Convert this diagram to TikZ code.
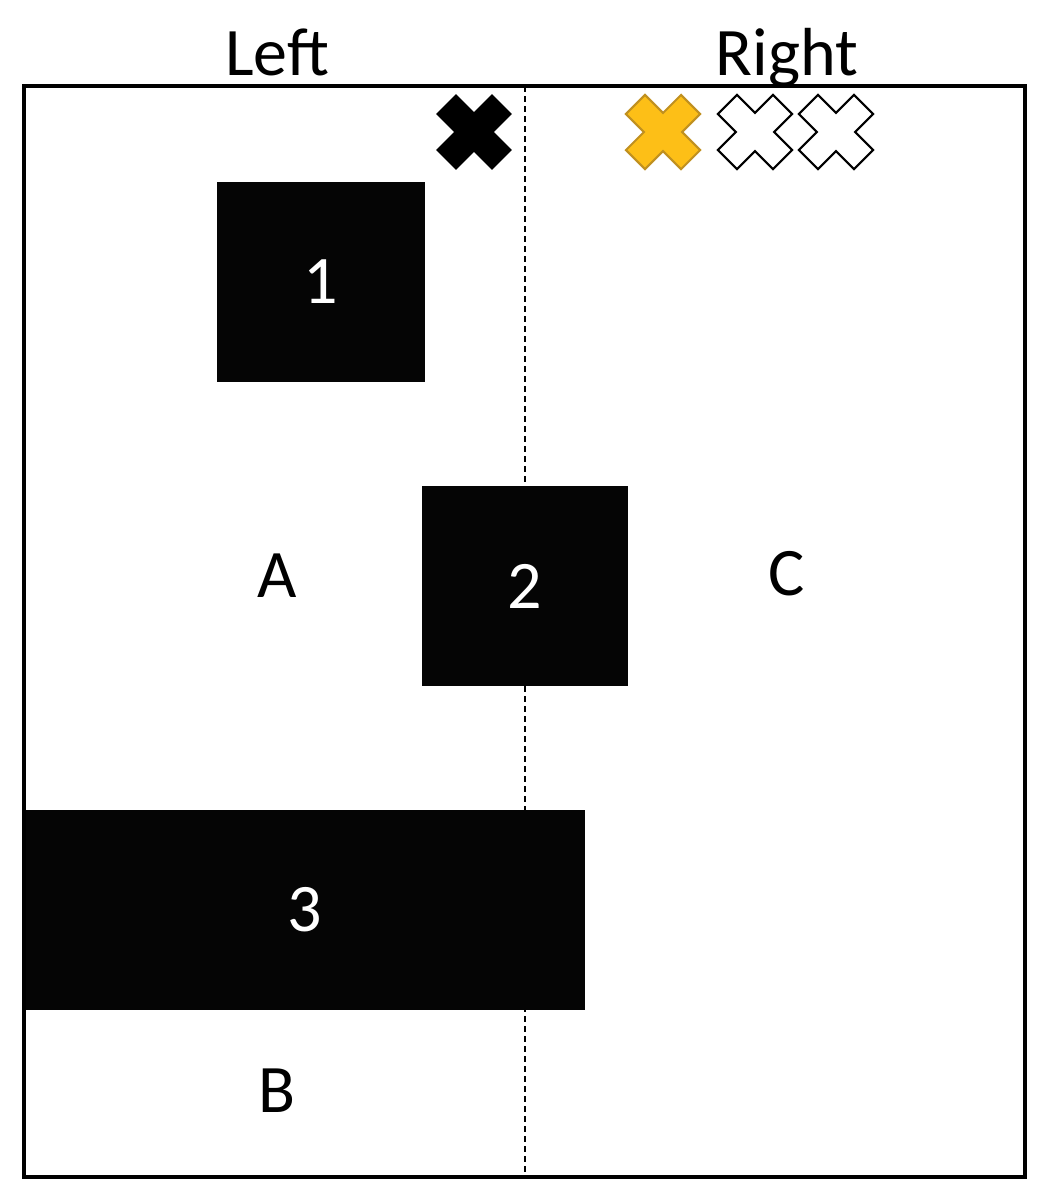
\documentclass[tikz,border=0pt]{standalone}
\usepackage{fontspec}
\setmainfont{Carlito}
\usepackage{xcolor}
\usepackage{tikz}
\usetikzlibrary{positioning}
\definecolor{xgold}{HTML}{FDBF17}
\definecolor{xgoldrim}{HTML}{C09020}

\tikzset{
  xcross/.pic={
    \draw[pic actions,rotate=45,line join=miter]
      (39,13.5) -- (13.5,13.5) -- (13.5,39) -- (-13.5,39) -- (-13.5,13.5) -- (-39,13.5)
      -- (-39,-13.5) -- (-13.5,-13.5) -- (-13.5,-39) -- (13.5,-39) -- (13.5,-13.5) -- (39,-13.5) -- cycle;
  },
  blk/.style={fill=black!98,text=white,inner sep=0pt,outer sep=0pt,minimum height=100pt},
  lbl/.style={anchor=base,inner sep=0pt}
}

\begin{document}
\begin{tikzpicture}[x=0.5pt,y=-0.5pt,font=\fontsize{34}{40}\selectfont]
  \useasboundingbox (0,0) rectangle (1043,1200);
  % halves
  \coordinate (midtop) at (525,86);
  \coordinate (midbot) at (525,1177);
  \draw[line width=0.6pt,dash pattern=on 3pt off 2pt] (midtop) -- (midbot);
  % blocks
  \node[blk,minimum width=104pt] (box1) at (321,282) {1};
  \node[blk,minimum width=103pt] (box2) at (525,586) {2};
  \node[blk,minimum width=280.5pt] (box3) at (304.5,910) {3};
  % frame
  \draw[line width=1.6pt] (24,86) rectangle (1025,1177);
  % headings and regions
  \node[lbl] (left) at (277,75) {Left};
  \node[lbl] (right) at (787,75) {Right};
  \node[lbl] (regA) at (277,597) {A};
  \node[lbl] (regB) at (277,1112) {B};
  \node[lbl] (regC) at (787,595) {C};
  % marks
  \pic[fill=black,draw=black,line width=0.5pt] at (474,132) {xcross};
  \pic[fill=xgold,draw=xgoldrim,line width=1pt] at (663,132) {xcross};
  \pic[fill=white,draw=black,line width=1.1pt] at (755,132) {xcross};
  \pic[fill=white,draw=black,line width=1.1pt] at (836,132) {xcross};
\end{tikzpicture}
\end{document}
